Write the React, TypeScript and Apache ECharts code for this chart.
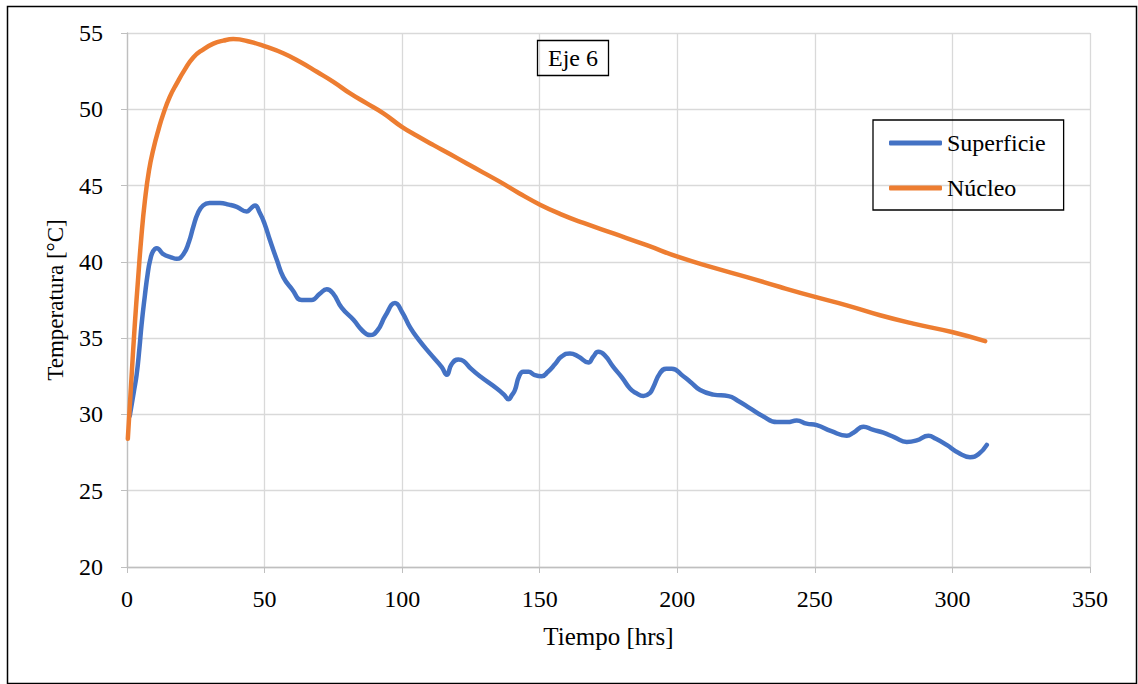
import React, { useEffect, useRef } from "react";
import * as echarts from "echarts";

const supT = [1, 2.5, 3.5, 4.5, 5.3, 6.5, 7.5, 8.4, 9.5, 10.8, 13.2, 16, 18.1, 20.5, 22.5, 24.1, 25.8, 27.7, 30, 33.8, 37, 39.9, 43.5, 45, 46.5, 48.3, 50, 52, 54.5, 56.8, 60, 63.5, 67.1, 70, 72.6, 75, 78, 82.3, 85.5, 88.3, 91, 94, 97.4, 100, 102.9, 106, 110.1, 114.4, 116.2, 118, 120.4, 122.3, 125, 128.3, 134.4, 137, 138.6, 140, 141, 142.5, 144, 146, 148, 150.7, 153, 155.6, 158, 161, 164, 167.7, 169.5, 171.3, 173.5, 176.8, 180, 182.8, 185, 187.7, 190, 191.3, 193.7, 196, 198, 202.2, 205, 208.3, 213.1, 218.6, 222, 226.5, 231, 236.2, 240, 243.4, 247, 250.7, 256, 261.6, 264, 267.7, 271, 274.9, 279, 283.4, 287, 291.3, 294, 297.9, 302, 306.4, 309.5, 312.5];
const supV = [29.9, 31.5, 32.6, 34.3, 35.9, 37.8, 39.2, 40.1, 40.7, 40.9, 40.5, 40.3, 40.2, 40.5, 41.3, 42.3, 43.2, 43.7, 43.85, 43.85, 43.75, 43.6, 43.3, 43.5, 43.7, 43.2, 42.5, 41.4, 40.1, 39.0, 38.2, 37.5, 37.5, 37.9, 38.2, 37.9, 37.0, 36.2, 35.5, 35.2, 35.5, 36.5, 37.3, 36.7, 35.7, 34.9, 34.0, 33.1, 32.6, 33.3, 33.6, 33.5, 33.0, 32.5, 31.7, 31.3, 31.0, 31.3, 31.6, 32.5, 32.8, 32.8, 32.6, 32.5, 32.8, 33.3, 33.8, 34.0, 33.8, 33.4, 33.8, 34.1, 33.9, 33.1, 32.4, 31.7, 31.4, 31.2, 31.4, 31.8, 32.7, 33.0, 33.0, 32.5, 32.1, 31.6, 31.3, 31.2, 30.9, 30.4, 29.9, 29.5, 29.5, 29.6, 29.4, 29.3, 28.9, 28.6, 28.8, 29.2, 29.0, 28.8, 28.5, 28.2, 28.3, 28.6, 28.4, 28.0, 27.5, 27.2, 27.4, 28.0];

const nucT = [0.3, 1.5, 2.8, 4, 5.2, 6.5, 8, 9.6, 11.5, 13.2, 15.5, 18.1, 21, 24.1, 27.5, 31.4, 35, 38.6, 44.7, 50.5, 56.8, 63, 69, 75, 81.1, 87, 93.2, 99.9, 105.5, 111.4, 117.5, 123.5, 129.5, 135.6, 142.5, 150.1, 158, 165.9, 176.8, 188.9, 200.4, 213.1, 225.3, 237.4, 250.1, 261.6, 273.7, 285.8, 299.8, 311.9];
const nucV = [28.4, 32.0, 35.8, 38.8, 41.6, 44.0, 46.0, 47.4, 48.7, 49.7, 50.8, 51.7, 52.6, 53.4, 53.9, 54.3, 54.5, 54.6, 54.43, 54.1, 53.67, 53.1, 52.46, 51.8, 51.04, 50.4, 49.73, 48.85, 48.25, 47.65, 47.05, 46.45, 45.85, 45.24, 44.5, 43.75, 43.1, 42.55, 41.86, 41.09, 40.32, 39.62, 39.0, 38.35, 37.7, 37.15, 36.5, 35.95, 35.4, 34.8];

const seriesNames = ["Superficie", "Núcleo"];
const chartTitle = "Eje 6";
const xName = "Tiempo [hrs]";
const yName = "Temperatura [°C]";

const FONT = "Liberation Serif";
const FS = 24;

export default function App() {
  const ref = useRef<HTMLDivElement>(null);
  useEffect(() => {
    const chart = echarts.init(ref.current!, null, { renderer: "svg" });
    const axisGray = "#bfbfbf";
    chart.setOption({
      animation: false,
      textStyle: { fontFamily: FONT },
      title: {
        text: chartTitle,
        left: 537,
        top: 40,
        borderColor: "#000",
        borderWidth: 1.3,
        padding: [5, 11, 5, 11],
        textStyle: { fontFamily: FONT, fontSize: FS, lineHeight: 26, fontWeight: "normal", color: "#000" },
      },
      legend: {
        orient: "vertical",
        left: 873,
        top: 120,
        borderColor: "#000",
        borderWidth: 1.3,
        padding: [11, 18, 10, 16],
        itemGap: 21,
        itemWidth: 53,
        itemHeight: 5,
        icon: "roundRect",
        textStyle: { fontFamily: FONT, fontSize: FS, color: "#000", lineHeight: 24, padding: [0, 0, 0, 0] },
        data: seriesNames,
      },
      graphic: [
        {
          type: "rect",
          left: 5,
          top: 4,
          shape: { width: 1129, height: 677 },
          style: { fill: "none", stroke: "#000", lineWidth: 1.5 },
          silent: true,
        },
      ],
      grid: { left: 127, right: 48, top: 33, bottom: 117, containLabel: false },
      xAxis: {
        type: "value",
        min: 0,
        max: 350,
        interval: 50,
        name: xName,
        nameLocation: "middle",
        nameGap: 57,
        nameTextStyle: { fontFamily: FONT, fontSize: 25, color: "#000" },
        axisLine: { show: true, lineStyle: { color: axisGray, width: 1.3 } },
        axisTick: { show: true, length: 6, lineStyle: { color: axisGray } },
        axisLabel: { margin: 20, fontFamily: FONT, fontSize: FS, color: "#000" },
        splitLine: { show: true, lineStyle: { color: "#d9d9d9", width: 1.3 } },
      },
      yAxis: {
        type: "value",
        min: 20,
        max: 55,
        interval: 5,
        name: yName,
        nameLocation: "middle",
        nameGap: 60,
        nameTextStyle: { fontFamily: FONT, fontSize: 23, color: "#000" },
        axisLine: { show: true, lineStyle: { color: axisGray, width: 1.3 } },
        axisTick: { show: true, length: 6, lineStyle: { color: axisGray } },
        axisLabel: { margin: 24, fontFamily: FONT, fontSize: FS, color: "#000" },
        splitLine: { show: true, lineStyle: { color: "#d9d9d9", width: 1.3 } },
      },
      series: [
        {
          name: seriesNames[0],
          type: "line",
          smooth: 0.5,
          showSymbol: false,
          color: "#4472C4",
          lineStyle: { width: 4.5, color: "#4472C4", cap: "round", join: "round" },
          data: supT.map((t, i) => [t, supV[i]]),
        },
        {
          name: seriesNames[1],
          type: "line",
          smooth: 0.5,
          showSymbol: false,
          color: "#ED7D31",
          lineStyle: { width: 4.5, color: "#ED7D31", cap: "round", join: "round" },
          data: nucT.map((t, i) => [t, nucV[i]]),
        },
      ],
    });
    return () => chart.dispose();
  }, []);
  return (
    <div
      ref={ref}
      style={{ position: "fixed", left: 0, top: 0, width: 1138, height: 684, background: "#fff" }}
    />
  );
}
